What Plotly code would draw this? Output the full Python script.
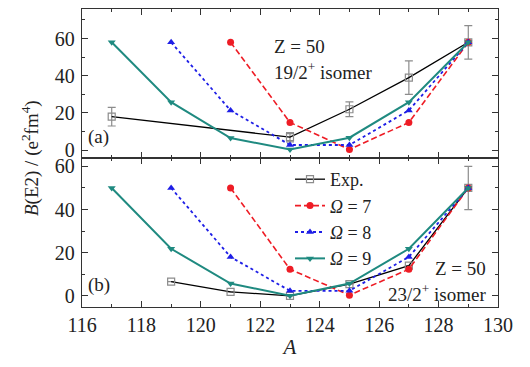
import plotly.graph_objects as go
from plotly.subplots import make_subplots

# ---- data ----
A_exp_a = [117, 123, 125, 127, 129]
exp_a = [18, 7, 22, 39, 58]
exp_a_err = [5, 2.5, 4, 9, 9]

A_o7_a = [121, 123, 125, 127, 129]
o7_a = [58, 14.9, 0.4, 14.9, 58]
A_o8_a = [119, 121, 123, 125, 127, 129]
o8_a = [58, 21.4, 2.8, 2.8, 21.4, 58]
A_o9_a = [117, 119, 121, 123, 125, 127, 129]
o9_a = [58, 25.8, 6.5, 0.4, 6.7, 25.8, 58]

A_exp_b = [119, 121, 123, 125, 127, 129]
exp_b = [6.6, 1.8, 0.0, 5.4, 14.0, 50]
exp_b_err = [0, 0, 0, 0, 0, 10]

A_o7_b = [121, 123, 125, 127, 129]
o7_b = [50, 12.3, 0.3, 12.3, 50]
A_o8_b = [119, 121, 123, 125, 127, 129]
o8_b = [50, 18, 2.3, 2.3, 18, 50]
A_o9_b = [117, 119, 121, 123, 125, 127, 129]
o9_b = [50, 21.8, 5.7, 0.0, 5.7, 21.8, 50]

x_ticks = [116, 118, 120, 122, 124, 126, 128, 130]
y_ticks = [0, 20, 40, 60]

RED = "#EE1C25"
BLUE = "#1E1EE6"
TEAL = "#1F8A80"
GRAY = "#8C8C8C"
FONT = "Liberation Serif"
TXT = "#222222"

fig = make_subplots(rows=2, cols=1, shared_xaxes=True, vertical_spacing=0)

def add_panel(row, ax, ay, aerr, x7, y7, x8, y8, x9, y9, show):
    fig.add_trace(go.Scatter(
        x=ax, y=ay, mode="lines+markers", name="Exp.", showlegend=show,
        line=dict(color="black", width=1.3),
        marker=dict(symbol="square-open", color=GRAY, size=7, line=dict(width=1.2, color=GRAY)),
        error_y=dict(type="data", array=aerr, visible=True, color=GRAY, thickness=1.2, width=4),
    ), row=row, col=1)
    fig.add_trace(go.Scatter(
        x=x7, y=y7, mode="lines+markers", name="<i>Ω</i> = 7", showlegend=show,
        line=dict(color=RED, width=1.6, dash="6px,3px"),
        marker=dict(symbol="circle", color=RED, size=7),
    ), row=row, col=1)
    fig.add_trace(go.Scatter(
        x=x8, y=y8, mode="lines+markers", name="<i>Ω</i> = 8", showlegend=show,
        line=dict(color=BLUE, width=1.8, dash="dot"),
        marker=dict(symbol="triangle-up", color=BLUE, size=7),
    ), row=row, col=1)
    fig.add_trace(go.Scatter(
        x=x9, y=y9, mode="lines+markers", name="<i>Ω</i> = 9", showlegend=show,
        line=dict(color=TEAL, width=2),
        marker=dict(symbol="triangle-down", color=TEAL, size=7),
    ), row=row, col=1)

add_panel(1, A_exp_a, exp_a, exp_a_err, A_o7_a, o7_a, A_o8_a, o8_a, A_o9_a, o9_a, False)
add_panel(2, A_exp_b, exp_b, exp_b_err, A_o7_b, o7_b, A_o8_b, o8_b, A_o9_b, o9_b, True)

axis_common = dict(
    showline=True, linecolor="#333333", linewidth=1.3, mirror="ticks",
    ticks="inside", ticklen=6, tickcolor="#333333", tickwidth=1.2,
    showgrid=False, zeroline=False,
    tickfont=dict(family=FONT, size=20, color=TXT),
)

fig.update_xaxes(**axis_common, range=[116, 130], tickvals=x_ticks,
                 minor=dict(dtick=1, ticks="inside", ticklen=3, tickcolor="#333333"))
fig.update_xaxes(title=dict(text="<i>A</i>", font=dict(family=FONT, size=21, color=TXT), standoff=4),
                 row=2, col=1)
fig.update_yaxes(**axis_common, tickvals=y_ticks, ticklabelstandoff=2,
                 minor=dict(dtick=10, tick0=0, ticks="inside", ticklen=3, tickcolor="#333333"))
fig.update_yaxes(range=[-4.2, 75.9], row=1, col=1)
fig.update_yaxes(range=[-5.2, 63.9], row=2, col=1)

ann_font = dict(family=FONT, size=19, color=TXT)
anns = [
    dict(x=122.4, y=56, xref="x", yref="y", text="Z = 50", xanchor="left"),
    dict(x=122.4, y=42.5, xref="x", yref="y", text="19/2<sup>+</sup> isomer", xanchor="left"),
    dict(x=116.15, y=7, xref="x", yref="y", text="(a)", xanchor="left"),
    dict(x=116.15, y=4.9, xref="x2", yref="y2", text="(b)", xanchor="left"),
    dict(x=129.65, y=12.8, xref="x2", yref="y2", text="Z = 50", xanchor="right"),
    dict(x=129.65, y=1.2, xref="x2", yref="y2", text="23/2<sup>+</sup> isomer", xanchor="right"),
]
for a in anns:
    a.update(showarrow=False, font=ann_font)

fig.update_layout(
    width=530, height=367,
    margin=dict(l=82, r=32, t=6, b=60),
    paper_bgcolor="white", plot_bgcolor="white",
    annotations=fig.layout.annotations + tuple(go.layout.Annotation(**a) for a in anns),
    legend=dict(x=0.5, y=0.49, xanchor="left", yanchor="top",
                font=dict(family=FONT, size=18, color=TXT),
                bgcolor="rgba(0,0,0,0)", tracegroupgap=0, itemwidth=30),
    showlegend=True,
)
fig.add_annotation(
    text="<i>B</i>(E2) / (e<sup>2</sup>fm<sup>4</sup>)", xref="paper", yref="paper",
    x=-0.125, y=0.5, textangle=-90, showarrow=False, xanchor="center", yanchor="middle",
    font=dict(family=FONT, size=19, color=TXT),
)

fig.write_html("out.html", config={"displayModeBar": False},
               post_script="document.body.style.margin='0';")
